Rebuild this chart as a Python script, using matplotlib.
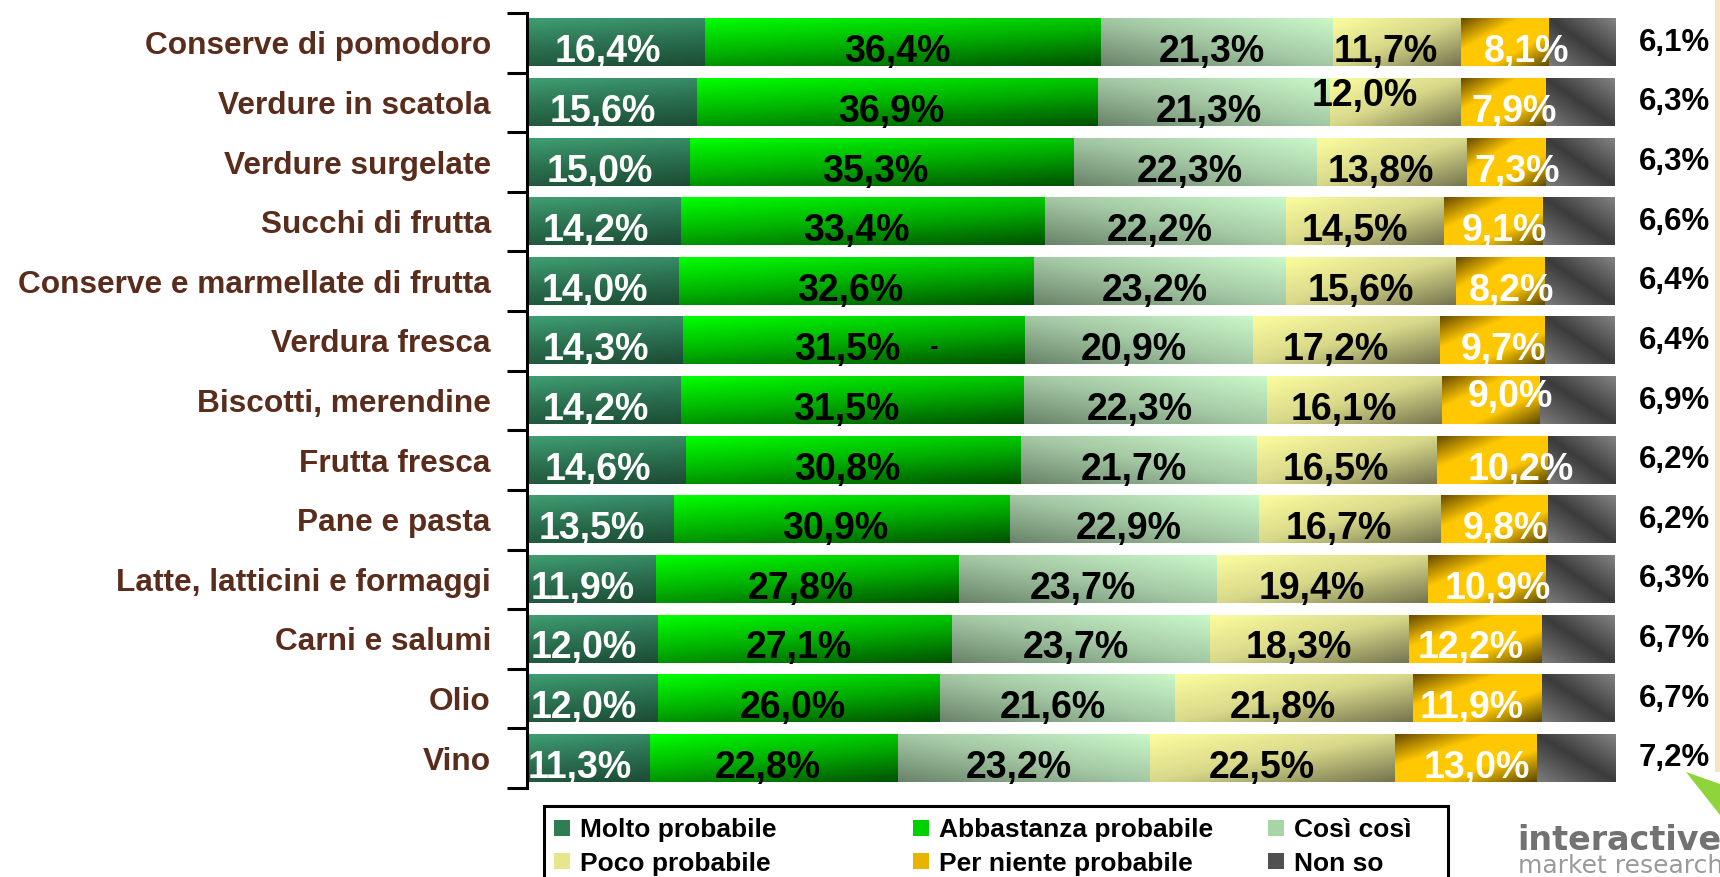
import numpy as np
import matplotlib.pyplot as plt
from matplotlib.colors import LinearSegmentedColormap
from matplotlib.patches import Patch, Polygon, Rectangle

plt.rcParams['font.family'] = ['Liberation Sans', 'DejaVu Sans']
plt.rcParams['font.weight'] = 'bold'

# Dati
categorie = ["Conserve di pomodoro", "Verdure in scatola", "Verdure surgelate",
             "Succhi di frutta", "Conserve e marmellate di frutta", "Verdura fresca",
             "Biscotti, merendine", "Frutta fresca", "Pane e pasta",
             "Latte, latticini e formaggi", "Carni e salumi", "Olio", "Vino"]
serie = ["Molto probabile", "Abbastanza probabile", "Così così",
         "Poco probabile", "Per niente probabile", "Non so"]
molto = [16.4, 15.6, 15.0, 14.2, 14.0, 14.3, 14.2, 14.6, 13.5, 11.9, 12.0, 12.0, 11.3]
abbastanza = [36.4, 36.9, 35.3, 33.4, 32.6, 31.5, 31.5, 30.8, 30.9, 27.8, 27.1, 26.0, 22.8]
cosi = [21.3, 21.3, 22.3, 22.2, 23.2, 20.9, 22.3, 21.7, 22.9, 23.7, 23.7, 21.6, 23.2]
poco = [11.7, 12.0, 13.8, 14.5, 15.6, 17.2, 16.1, 16.5, 16.7, 19.4, 18.3, 21.8, 22.5]
per_niente = [8.1, 7.9, 7.3, 9.1, 8.2, 9.7, 9.0, 10.2, 9.8, 10.9, 12.2, 11.9, 13.0]
non_so = [6.1, 6.3, 6.3, 6.6, 6.4, 6.4, 6.9, 6.2, 6.2, 6.3, 6.7, 6.7, 7.2]
valori = [molto, abbastanza, cosi, poco, per_niente, non_so]

# colori base (legenda) e sfumature: lista colori + pesi (u, v) della direzione
colori = ["#2f7d55", "#00d000", "#a6d6a6", "#e6e68c", "#e8b400", "#505050"]
sfumature = [
    (["#3f9e72", "#2b7150", "#1c4c34"], (0.2, 0.8), False),
    (["#00ff00", "#00b000", "#005200"], (0.35, 0.65), False),
    (["#c9f8c9", "#a4c8a4", "#6a846a"], (0.5, 0.5), True),
    (["#fcfc9e", "#d8d88a", "#75754f"], (0.5, 0.5), False),
    ([(0, "#6a4d00"), (0.33, "#ffc800"), (0.66, "#ffc800"), (1, "#5e4a00")], (0.5, 0.5), False),
    ([(0, "#7c7c7c"), (0.5, "#3b3b3b"), (1, "#828282")], (0.5, 0.5), "nonso"),
]
colore_testo = ["white", "black", "black", "black", "white", "none"]
dx_serie = [-0.8, -0.6, -0.5, -1.0, 1.0, 0]
# spostamenti a mano di alcune etichette (riga, serie): (dx, dy)
ritocchi = {(0, 4): (1.0, 0), (1, 3): (-1.8, -0.27), (6, 4): (0.8, -0.22),
            (7, 4): (1.6, 0.0), (10, 4): (-1.5, 0), (11, 4): (-1.5, 0)}

fig = plt.figure(figsize=(17.2, 8.77), dpi=100)
ax = fig.add_axes([527 / 1720, 1 - 788 / 877, 1088 / 1720, 775 / 877])

n = len(categorie)
y = np.arange(n)
sinistra = np.zeros(n)
gu, gv = np.meshgrid(np.linspace(0, 1, 80), np.linspace(0, 1, 40))
for k, nome in enumerate(serie):
    v = np.array(valori[k])
    barre = ax.barh(y, v, left=sinistra, height=0.79, color=colori[k], zorder=1)
    cols, (a, b), flip = sfumature[k]
    cmap = LinearSegmentedColormap.from_list("g%d" % k, cols)
    if flip == "nonso":
        t = a * gu + b * (1 - gv)
    elif flip:
        t = a * (1 - gu) + b * gv
    else:
        t = a * gu + b * gv
    for r in barre.patches:
        x0, y0, w, h = r.get_x(), r.get_y(), r.get_width(), r.get_height()
        ax.imshow(t, cmap=cmap, vmin=0, vmax=1, extent=(x0, x0 + w, y0 + h, y0),
                  aspect='auto', interpolation='bilinear', zorder=2)
    if colore_testo[k] != "none":
        for i in range(n):
            ddx, ddy = ritocchi.get((i, k), (0, 0))
            ax.text(sinistra[i] + v[i] / 2 + dx_serie[k] + ddx, y[i] + 0.16 + ddy,
                    ("%.1f%%" % v[i]).replace('.', ','), ha='center', va='center',
                    fontsize=27, color=colore_testo[k], zorder=3)
    sinistra = sinistra + v

# valori "Non so" a destra della barra
for i in range(n):
    ax.text(102.2, y[i], ("%.1f%%" % non_so[i]).replace('.', ','), ha='left',
            va='center', fontsize=22.5, color='black', clip_on=False)

# trattino vagante nella riga "Verdura fresca"
ax.text(37.4, 5 + 0.1, "-", ha='center', va='center', fontsize=18, color='black', zorder=3)

ax.set_xlim(0, 100)
ax.set_ylim(n - 0.5, -0.5)
ax.set_yticks(np.arange(n + 1) - 0.5)
ax.set_yticklabels([])
ax.set_yticks(y, labels=categorie, minor=True)
ax.tick_params(axis='y', which='major', direction='out', length=14.5, width=2.2)
ax.tick_params(axis='y', which='minor', length=0, pad=26, labelsize=22.8, labelcolor='#5a2c1c')
ax.set_xticks([])
for s in ['top', 'right', 'bottom']:
    ax.spines[s].set_visible(False)
ax.spines['left'].set_linewidth(2.2)
ax.set_facecolor('none')

# legenda: cornice + tre colonne (ordine per righe come nell'originale)
fig.patches.append(Rectangle((544 / 1720, -0.05), 904 / 1720, 1 - 806 / 877 + 0.05,
                             transform=fig.transFigure, facecolor='white',
                             edgecolor='black', linewidth=2.2))
colonne_x = [554, 913, 1268]
for c in range(3):
    idx = [c, c + 3]
    leg = fig.legend([Patch(facecolor=colori[j], edgecolor='none') for j in idx],
                     [serie[j] for j in idx], loc='upper left',
                     bbox_to_anchor=(colonne_x[c] / 1720, 1 - 818 / 877),
                     bbox_transform=fig.transFigure, borderaxespad=0, borderpad=0,
                     fontsize=19, handlelength=0.6, handleheight=0.55,
                     handletextpad=0.38, labelspacing=0.37, frameon=False)

# logo e decorazioni
fig.patches.append(Rectangle((1715 / 1720, 1 - 772 / 877), 5 / 1720, 772 / 877,
                             transform=fig.transFigure, facecolor='#f6e4c2', edgecolor='none'))
fig.patches.append(Polygon([(1686 / 1720, 1 - 772 / 877), (1720 / 1720, 1 - 784 / 877),
                            (1720 / 1720, 1 - 815 / 877)], closed=True,
                           transform=fig.transFigure, facecolor='#8fd43a', edgecolor='none'))
fig.text(1517 / 1720, 1 - 850 / 877, "interactive", family='DejaVu Sans', fontweight='bold',
         fontsize=24, color='#727272', va='baseline', ha='left')
fig.text(1518 / 1720, 1 - 873 / 877, "market research", family='DejaVu Sans',
         fontweight='normal', fontsize=18, color='#9a9a9a', va='baseline', ha='left')

fig.savefig('out.png', dpi=100)
